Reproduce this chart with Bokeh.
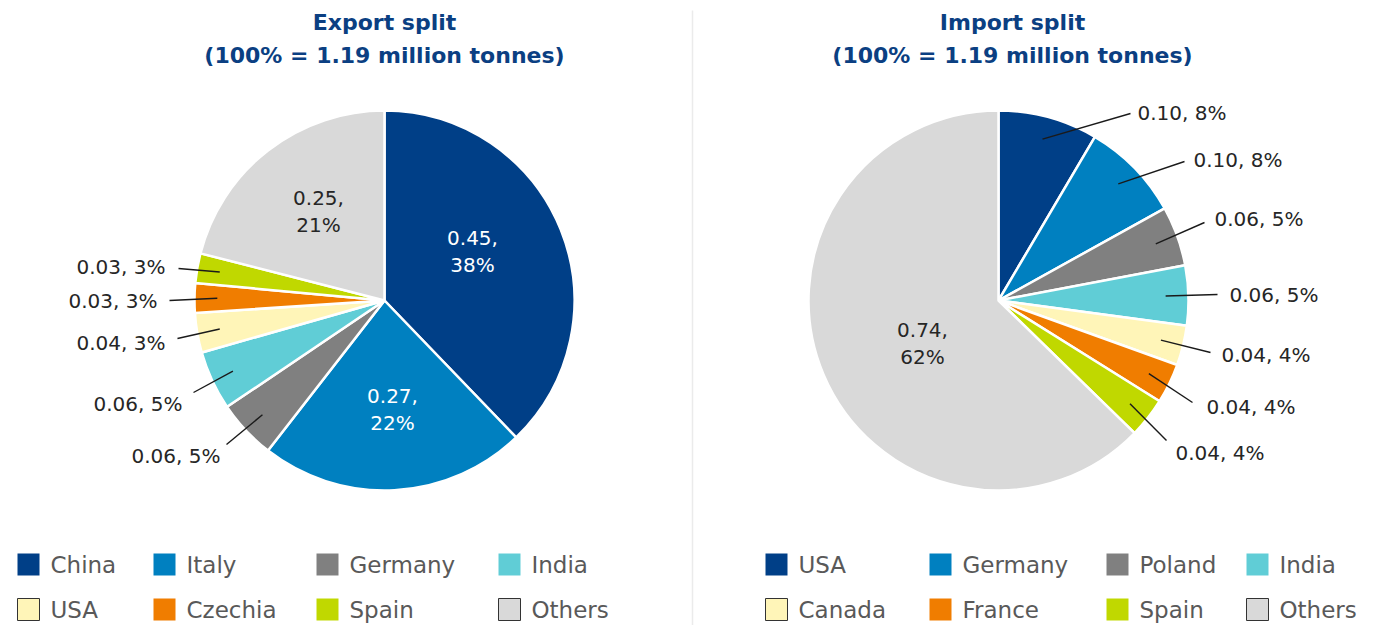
import math
from bokeh.plotting import figure
from bokeh.models import Range1d
from bokeh.embed import file_html
from bokeh.resources import INLINE
from bokeh.core.properties import value

# ---------------- data ----------------
exp_countries = ["China", "Italy", "Germany", "India", "USA", "Czechia", "Spain", "Others"]
exp_tonnes = [0.45, 0.27, 0.06, 0.06, 0.04, 0.03, 0.03, 0.25]
exp_pct = [38, 22, 5, 5, 3, 3, 3, 21]

imp_countries = ["USA", "Germany", "Poland", "India", "Canada", "France", "Spain", "Others"]
imp_tonnes = [0.10, 0.10, 0.06, 0.06, 0.04, 0.04, 0.04, 0.74]
imp_pct = [8, 8, 5, 5, 4, 4, 4, 62]

slice_colors = ["#003F87", "#0080C0", "#808080", "#60CDD6", "#FFF5B8", "#F07D00", "#C0D800", "#D9D9D9"]

exp_title = ["Export split", "(100% = 1.19 million tonnes)"]
imp_title = ["Import split", "(100% = 1.19 million tonnes)"]

# ---------------- layout (reference pixel coords, y downwards) ----------------
H = 641
FONT = "DejaVu Sans"
exp_center = (384, 300)
imp_center = (998, 300)
RADIUS = 190

# inside labels: slice index -> block centre
exp_inside = {0: (472, 250), 1: (392, 408), 7: (318, 210)}
imp_inside = {7: (922, 342)}
# outside labels: slice index -> (leader outer end, text anchor)
exp_outside = {2: ((226, 444), (220, 455)), 3: ((193, 392), (182, 403)),
               4: ((177, 338), (165, 342)), 5: ((169, 300), (157, 300)),
               6: ((178, 268), (165, 266))}
imp_outside = {0: ((1130, 113), (1137, 112)), 1: ((1184, 161), (1193, 159)),
               2: ((1204, 222), (1214, 218)), 3: ((1217, 294), (1229, 294)),
               4: ((1210, 352), (1221, 354)), 5: ((1192, 402), (1206, 406)),
               6: ((1166, 440), (1175, 452))}

legend_sq_x_exp = [17, 153, 316, 498]
legend_sq_x_imp = [765, 929, 1106, 1246]
legend_rows_y = [564, 609]

p = figure(width=1360, height=625, x_range=Range1d(0, 1360), y_range=Range1d(16, 641),
           output_backend="svg", toolbar_location=None,
           x_axis_location=None, y_axis_location=None, min_border=0)
p.grid.visible = False
p.outline_line_color = None
p.background_fill_color = "white"


def Y(y):
    return H - y


# divider
p.line([692, 692], [Y(10), Y(625)], line_color="#EBEBEB", line_width=1.5)


def draw_pie(center, countries, tonnes, pct, inside, outside, side, title, title_x, sq_xs):
    cx, cy = center[0], Y(center[1])
    total = sum(tonnes)
    cum = 0.0
    starts, ends, mids = [], [], []
    for t in tonnes:
        a0 = math.pi / 2 - 2 * math.pi * (cum + t) / total
        a1 = math.pi / 2 - 2 * math.pi * cum / total
        starts.append(a0)
        ends.append(a1)
        mids.append((a0 + a1) / 2)
        cum += t
    p.wedge(x=[cx] * len(tonnes), y=[cy] * len(tonnes), radius=RADIUS,
            start_angle=starts, end_angle=ends, fill_color=slice_colors,
            line_color="white", line_width=2.5)
    # inside labels (two lines)
    for i, (lx, ly) in inside.items():
        col = "white" if i < 2 else "#262626"
        p.text(x=[lx, lx], y=[Y(ly - 13), Y(ly + 14)],
               text=["%.2f," % tonnes[i], "%d%%" % pct[i]],
               text_align="center", text_baseline="middle", text_color=col,
               text_font=value(FONT), text_font_size="20px")
    # outside labels
    for i, ((ox, oy), (tx, ty)) in outside.items():
        ix = cx + 0.88 * RADIUS * math.cos(mids[i])
        iy = cy + 0.88 * RADIUS * math.sin(mids[i])
        p.line([ix, ox], [iy, Y(oy)], line_color="#1A1A1A", line_width=1.4)
        p.text(x=[tx], y=[Y(ty)], text=["%.2f, %d%%" % (tonnes[i], pct[i])],
               text_align=("right" if side == "left" else "left"), text_baseline="middle",
               text_color="#262626", text_font=value(FONT), text_font_size="20px")
    # title
    p.text(x=[title_x, title_x], y=[Y(22), Y(55)], text=title, text_align="center",
           text_baseline="middle", text_color="#0B3F82", text_font=value(FONT),
           text_font_style="bold", text_font_size="22px")
    # legend
    for k, name in enumerate(countries):
        r, c = divmod(k, 4)
        sx = sq_xs[c]
        sy = legend_rows_y[r]
        light = k in (4, 7)
        p.rect(x=[sx + 11], y=[Y(sy)], width=22, height=22, fill_color=slice_colors[k],
               line_color=("#333333" if light else None), line_width=1)
        p.text(x=[sx + 33], y=[Y(sy)], text=[name], text_align="left", text_baseline="middle",
               text_color="#595959", text_font=value(FONT), text_font_size="23px")


draw_pie(exp_center, exp_countries, exp_tonnes, exp_pct, exp_inside, exp_outside, "left",
         exp_title, 384, legend_sq_x_exp)
draw_pie(imp_center, imp_countries, imp_tonnes, imp_pct, imp_inside, imp_outside, "right",
         imp_title, 1012, legend_sq_x_imp)

open("out.html", "w").write(file_html(p, INLINE))
